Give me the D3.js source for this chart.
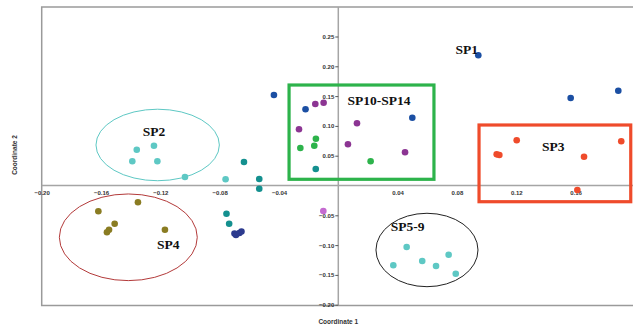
<!DOCTYPE html>
<html>
<head>
<meta charset="utf-8">
<script src="https://cdn.jsdelivr.net/npm/d3@7"></script>
<style>
  html, body { margin: 0; padding: 0; background: #fff; }
  svg { display: block; }
</style>
</head>
<body>
<svg id="chart" width="633" height="328"></svg>
<script>
// ---------- data ----------
const seriesNames = ["blue", "navy", "teal", "lightteal", "olive", "purple", "pink", "green", "red"];
const seriesColors = ["#1b4fa3", "#2c3a8e", "#14908f", "#5ec8c4", "#8a7c22", "#8c3593", "#c46ad0", "#2db34b", "#ef4b2b"];

const blueX = [0.0944, 0.1567, 0.1888, -0.0434, -0.0221, 0.0499];
const blueY = [0.2185, 0.1468, 0.1591, 0.1518, 0.1279, 0.1138];
const navyX = [-0.0700, -0.0690, -0.0667, -0.0653];
const navyY = [-0.0805, -0.0831, -0.0797, -0.0772];
const tealX = [-0.0636, -0.0533, -0.0533, -0.0754, -0.0736, -0.0152];
const tealY = [0.0394, 0.0109, -0.0054, -0.0473, -0.0641, 0.0277];
const lightTealX = [-0.1359, -0.1243, -0.1389, -0.1220, -0.1034, -0.0760, 0.0461, 0.0371, 0.0566, 0.0659, 0.0744, 0.0792];
const lightTealY = [0.0601, 0.0668, 0.0406, 0.0406, 0.0143, 0.0104, -0.1032, -0.1339, -0.1267, -0.1351, -0.1161, -0.1480];
const oliveX = [-0.1618, -0.1351, -0.1508, -0.1546, -0.1560, -0.1169];
const oliveY = [-0.0433, -0.0282, -0.0641, -0.0742, -0.0785, -0.0742];
const purpleX = [-0.0265, -0.0155, -0.0099, 0.0126, 0.0065, 0.0450];
const purpleY = [0.0943, 0.1367, 0.1389, 0.1044, 0.0691, 0.0557];
const pinkX = [-0.0101];
const pinkY = [-0.0428];
const greenX = [-0.0256, -0.0151, -0.0162, 0.0218];
const greenY = [0.0629, 0.0785, 0.0668, 0.0406];
const redX = [0.1068, 0.1086, 0.1203, 0.1657, 0.1908, 0.1612];
const redY = [0.0523, 0.0512, 0.0758, 0.0483, 0.0742, -0.0076];

const xTicks = [-0.20, -0.16, -0.12, -0.08, -0.04, 0.04, 0.08, 0.12, 0.16];
const yTicks = [0.25, 0.20, 0.15, 0.10, 0.05, -0.05, -0.10, -0.15, -0.20];

// group annotations (data units)
const ellipseNames = ["SP2", "SP4", "SP5-9"];
const ellipseCX = [-0.1218, -0.1416, 0.0598];
const ellipseCY = [0.068, -0.0869, -0.1082];
const ellipseRX = [0.0416, 0.0465, 0.0344];
const ellipseRY = [0.060, 0.0727, 0.0616];
const ellipseColors = ["#5ec8c4", "#b33a3a", "#222222"];

const boxNames = ["SP10-SP14", "SP3"];
const boxX0 = [-0.0332, 0.0949];
const boxX1 = [0.0645, 0.1972];
const boxY0 = [0.1686, 0.1015];
const boxY1 = [0.0104, -0.0272];
const boxColors = ["#2db34b", "#ef4b2b"];

const labelTexts = ["SP1", "SP2", "SP3", "SP4", "SP5-9", "SP10-SP14"];
const labelX = [0.0866, -0.1243, 0.1450, -0.1146, 0.0468, 0.0274];
const labelY = [0.2285, 0.0903, 0.0651, -0.0987, -0.0691, 0.1418];

// ---------- drawing ----------
const svg = d3.select("#chart");
const x = d3.scaleLinear().domain([-0.20, 0.20]).range([41.7, 634.9]);
const y = d3.scaleLinear().domain([-0.20, 0.30]).range([304.7, 6.7]);

const frameTop = 7, frameBottom = 305.5, frameLeft = 41.7;

// frame
svg.append("rect")
  .attr("x", frameLeft).attr("y", frameTop)
  .attr("width", 640 - frameLeft).attr("height", frameBottom - frameTop)
  .attr("fill", "none").attr("stroke", "#9a9a9a").attr("stroke-width", 1.5);

// zero lines
svg.append("line")
  .attr("x1", x(0)).attr("x2", x(0)).attr("y1", frameTop).attr("y2", frameBottom)
  .attr("stroke", "#a5a5a5").attr("stroke-width", 1.5);
svg.append("line")
  .attr("x1", frameLeft).attr("x2", 640).attr("y1", y(0)).attr("y2", y(0))
  .attr("stroke", "#a5a5a5").attr("stroke-width", 1.5);

// x axis through y=0
const xAxis = d3.axisBottom(x).tickValues(xTicks).tickSize(0).tickPadding(5)
  .tickFormat(d3.format(".2f"));
const gx = svg.append("g").attr("transform", `translate(0,${y(0)})`).call(xAxis);
gx.select(".domain").remove();
gx.selectAll("text").attr("font-family", "Liberation Sans, Arial, sans-serif")
  .attr("font-size", 6).attr("font-weight", "bold").attr("fill", "#333");

// y axis through x=0
const yAxis = d3.axisLeft(y).tickValues(yTicks).tickSize(3).tickPadding(1)
  .tickFormat(d3.format(".2f"));
const gy = svg.append("g").attr("transform", `translate(${x(0)},0)`).call(yAxis);
gy.select(".domain").remove();
gy.selectAll("line").attr("stroke", "#555");
gy.selectAll("text").attr("font-family", "Liberation Sans, Arial, sans-serif")
  .attr("font-size", 6).attr("font-weight", "bold").attr("fill", "#333");

// axis titles
svg.append("text").attr("x", x(0)).attr("y", 324).attr("text-anchor", "middle")
  .attr("font-family", "Liberation Sans, Arial, sans-serif").attr("font-size", 6.5)
  .attr("font-weight", "bold").attr("fill", "#333").text("Coordinate 1");
svg.append("text").attr("transform", "translate(17,155) rotate(-90)").attr("text-anchor", "middle")
  .attr("font-family", "Liberation Sans, Arial, sans-serif").attr("font-size", 6.5)
  .attr("font-weight", "bold").attr("fill", "#333").text("Coordinate 2");

// ellipses
ellipseNames.forEach((n, i) => {
  svg.append("ellipse")
    .attr("cx", x(ellipseCX[i])).attr("cy", y(ellipseCY[i]))
    .attr("rx", x(ellipseRX[i]) - x(0)).attr("ry", y(0) - y(ellipseRY[i]))
    .attr("fill", "none").attr("stroke", ellipseColors[i]).attr("stroke-width", 1);
});

// boxes
boxNames.forEach((n, i) => {
  svg.append("rect")
    .attr("x", x(boxX0[i])).attr("y", y(boxY0[i]))
    .attr("width", x(boxX1[i]) - x(boxX0[i])).attr("height", y(boxY1[i]) - y(boxY0[i]))
    .attr("fill", "none").attr("stroke", boxColors[i]).attr("stroke-width", 3.2);
});

// points
const allX = [blueX, navyX, tealX, lightTealX, oliveX, purpleX, pinkX, greenX, redX];
const allY = [blueY, navyY, tealY, lightTealY, oliveY, purpleY, pinkY, greenY, redY];
seriesNames.forEach((n, si) => {
  const pts = allX[si].map((v, k) => ({ x: v, y: allY[si][k] }));
  svg.append("g").selectAll("circle").data(pts).join("circle")
    .attr("cx", d => x(d.x)).attr("cy", d => y(d.y)).attr("r", 3.3)
    .attr("fill", seriesColors[si]);
});

// labels
labelTexts.forEach((t, i) => {
  svg.append("text").attr("x", x(labelX[i])).attr("y", y(labelY[i]))
    .attr("text-anchor", "middle").attr("dominant-baseline", "central")
    .attr("font-family", "Liberation Serif, Times New Roman, serif")
    .attr("font-size", 13.5).attr("font-weight", "bold").attr("fill", "#111")
    .text(t);
});
</script>
</body>
</html>
